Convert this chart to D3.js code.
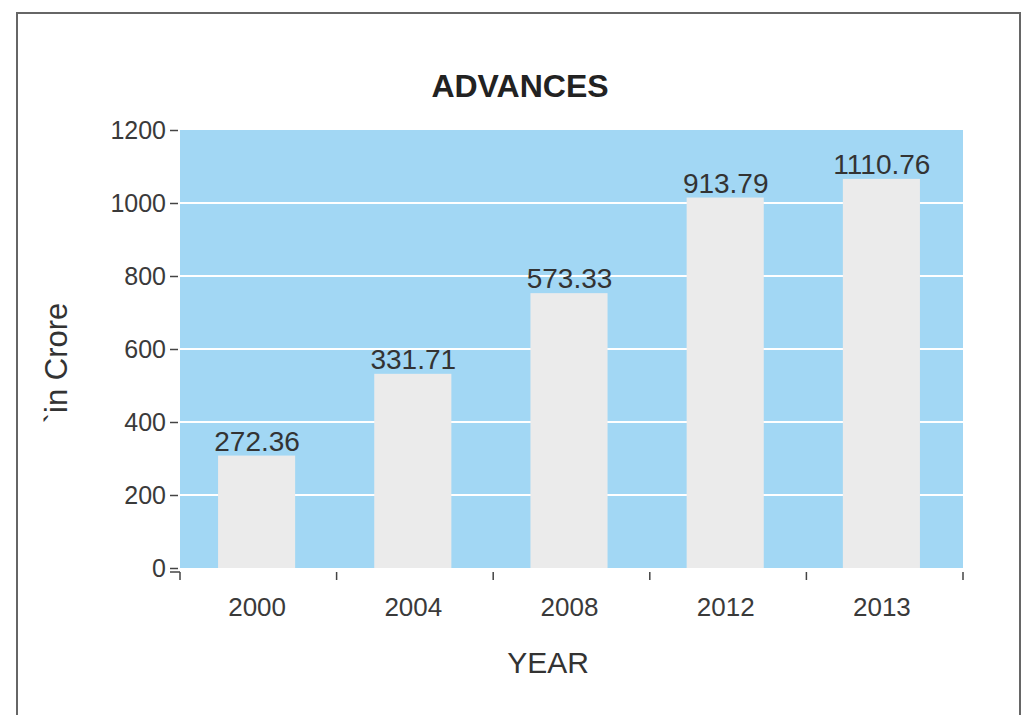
<!DOCTYPE html>
<html><head><meta charset="utf-8">
<script src="https://cdn.jsdelivr.net/npm/d3@7"></script>
<style>html,body{margin:0;padding:0;background:#fff;}svg{display:block;font-family:Arial,"Liberation Sans",sans-serif;}</style>
</head><body>
<svg id="chart" width="1030" height="715"></svg>
<script>
const years = ["2000", "2004", "2008", "2012", "2013"];
const barHeights = [308, 532, 753, 1015, 1066];           // heights as drawn in the picture
const barLabels = ["272.36", "331.71", "573.33", "913.79", "1110.76"];
const yTicks = [0, 200, 400, 600, 800, 1000, 1200];

(function () {
const svg = d3.select("#chart");
const pLeft = 180, pRight = 963, pTop = 130, pBottom = 568;

// frame
svg.append("rect").attr("x", 17).attr("y", 13).attr("width", 1003).attr("height", 720)
  .attr("fill", "#fff").attr("stroke", "#666").attr("stroke-width", 2);

const x = d3.scaleBand().domain(years).range([pLeft - 1, pRight - 3]).paddingInner(0.5).paddingOuter(0.25);
const y = d3.scaleLinear().domain([0, 1200]).range([pBottom, pTop]);

// plot background
svg.append("rect").attr("x", pLeft).attr("y", pTop).attr("width", pRight - pLeft).attr("height", pBottom - pTop)
  .attr("fill", "#a2d7f4");

// gridlines
svg.append("g").selectAll("line").data(yTicks.filter(d => d > 0 && d < 1200)).join("line")
  .attr("x1", pLeft).attr("x2", pRight).attr("y1", d => y(d)).attr("y2", d => y(d))
  .attr("stroke", "#fff").attr("stroke-width", 2);

// bars
svg.append("g").selectAll("rect").data(years).join("rect")
  .attr("x", d => x(d)).attr("width", x.bandwidth() - 1)
  .attr("y", (d, i) => y(barHeights[i])).attr("height", (d, i) => y(0) - y(barHeights[i]))
  .attr("fill", "#ebebeb");

// bar labels
svg.append("g").selectAll("text").data(years).join("text")
  .attr("x", d => x(d) + x.bandwidth() / 2)
  .attr("y", (d, i) => y(barHeights[i]) - 5)
  .attr("text-anchor", "middle").attr("font-size", 28).attr("fill", "#333")
  .text((d, i) => barLabels[i]);

// y axis
const yAxis = svg.append("g").attr("transform", `translate(${pLeft - 2},0)`)
  .call(d3.axisLeft(y).tickValues(yTicks).tickFormat(d3.format("d")).tickSize(8).tickPadding(4));
yAxis.select(".domain").remove();
yAxis.selectAll(".tick line").attr("stroke", "#444").attr("stroke-width", 1.5);
yAxis.selectAll(".tick text").attr("font-size", 25).attr("fill", "#3a3a3a")
  .attr("font-family", "Arial, 'Liberation Sans', sans-serif");

// x axis ticks at band boundaries
const step = (pRight - pLeft) / years.length;
const bounds = d3.range(years.length + 1).map(i => pLeft + i * step);
svg.append("g").selectAll("line").data(bounds).join("line")
  .attr("x1", d => d).attr("x2", d => d).attr("y1", pBottom + 4).attr("y2", pBottom + 12)
  .attr("stroke", "#444").attr("stroke-width", 1.5);
svg.append("line").attr("x1", pLeft - 10).attr("x2", pLeft).attr("y1", pBottom + 4).attr("y2", pBottom + 4)
  .attr("stroke", "#444").attr("stroke-width", 1.5);

// x tick labels
svg.append("g").selectAll("text").data(years).join("text")
  .attr("x", d => x(d) + x.bandwidth() / 2).attr("y", 616)
  .attr("text-anchor", "middle").attr("font-size", 26).attr("fill", "#3a3a3a").text(d => d);

// title
svg.append("text").attr("x", 520).attr("y", 97).attr("text-anchor", "middle")
  .attr("font-size", 32).attr("font-weight", "bold").attr("fill", "#222").text("ADVANCES");

// axis titles
svg.append("text").attr("x", 548).attr("y", 673).attr("text-anchor", "middle")
  .attr("font-size", 30).attr("fill", "#333").text("YEAR");
svg.append("text").attr("transform", "translate(67,363) rotate(-90)").attr("text-anchor", "middle")
  .attr("font-size", 31).attr("fill", "#333").text("`in Crore");
})();
</script>
</body></html>
